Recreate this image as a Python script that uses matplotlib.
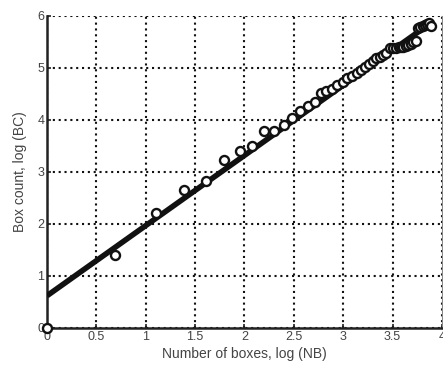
import matplotlib
matplotlib.use("Agg")
import matplotlib.pyplot as plt

plt.rcParams['font.family'] = ['Liberation Sans', 'DejaVu Sans']

# log(number of boxes) vs log(box count)
log_nb = [0, 0.69, 1.10, 1.39, 1.61, 1.79, 1.95, 2.08, 2.20, 2.30, 2.40, 2.48,
          2.56, 2.64, 2.71, 2.77, 2.83, 2.89, 2.94, 3.00, 3.04, 3.09, 3.14,
          3.18, 3.22, 3.26, 3.30, 3.33, 3.37, 3.40, 3.43, 3.47, 3.50, 3.53,
          3.56, 3.58, 3.61, 3.64, 3.66, 3.69, 3.71, 3.74, 3.76, 3.78, 3.81,
          3.83, 3.85, 3.87, 3.89]
log_bc = [0, 1.40, 2.21, 2.65, 2.83, 3.23, 3.40, 3.50, 3.79, 3.79, 3.90, 4.04,
          4.18, 4.26, 4.35, 4.51, 4.55, 4.60, 4.67, 4.74, 4.80, 4.85, 4.90,
          4.96, 5.02, 5.08, 5.14, 5.19, 5.22, 5.25, 5.28, 5.38, 5.38, 5.39,
          5.40, 5.40, 5.41, 5.43, 5.45, 5.47, 5.50, 5.52, 5.76, 5.78, 5.80,
          5.83, 5.85, 5.86, 5.80]

# fitted line end points
fit_x = [0, 3.86]
fit_y = [0.62, 5.83]

xticks = [0, 0.5, 1, 1.5, 2, 2.5, 3, 3.5, 4]
xtick_labels = ['0', '0.5', '1', '1.5', '2', '2.5', '3', '3.5', '4']
yticks = [0, 1, 2, 3, 4, 5, 6]

fig = plt.figure(figsize=(4.43, 3.65), dpi=100)
ax = fig.add_axes([47 / 443, 37 / 365, 395 / 443, 312 / 365])

ax.plot(fit_x, fit_y, color='#111111', lw=4, solid_capstyle='butt', zorder=3)
ax.plot(log_nb, log_bc, 'o', mfc='white', mec='#111111', ms=6.5, mew=1.7,
        clip_on=False, zorder=4)

ax.set_xlim(0, 4)
ax.set_ylim(0, 6)
ax.set_xticks(xticks)
ax.set_xticklabels(xtick_labels)
ax.set_yticks(yticks)

ax.grid(True, color='#111111', linestyle=(0, (1, 1.8)), linewidth=1.5)
ax.set_axisbelow(True)

ax.spines['top'].set_visible(False)
ax.spines['left'].set_linewidth(1.8)
ax.spines['bottom'].set_linewidth(1.8)
ax.spines['left'].set_color('#222222')
ax.spines['bottom'].set_color('#222222')
ax.spines['right'].set_color('#888888')
ax.spines['right'].set_linewidth(0.8)

ax.tick_params(direction='in', length=3, width=1.2, labelsize=9,
               labelcolor='#444444', color='#222222', pad=2)

ax.set_xlabel('Number of boxes, log (NB)', fontsize=10, color='#444444', labelpad=3)
ax.set_ylabel('Box count, log (BC)', fontsize=10, color='#444444', labelpad=7)

fig.savefig('out.png', dpi=100)
